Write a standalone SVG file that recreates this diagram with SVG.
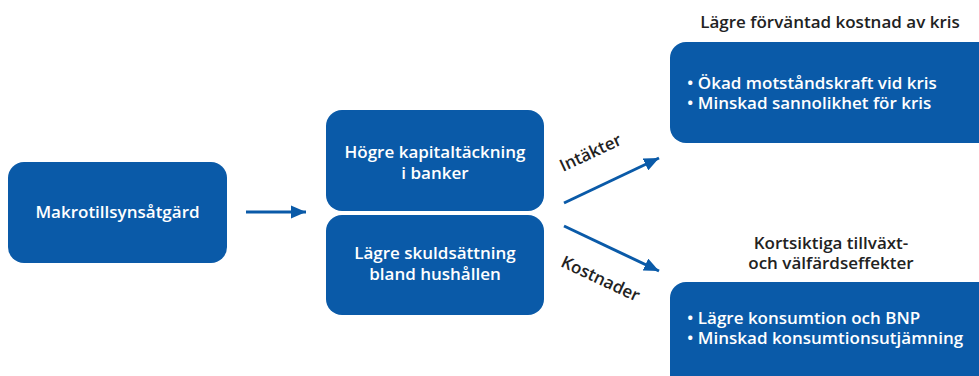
<svg xmlns="http://www.w3.org/2000/svg" width="979" height="376" viewBox="0 0 979 376">
  <defs>
    <marker id="arrow" viewBox="0 0 10 10" refX="10" refY="5" markerWidth="5" markerHeight="4.4" orient="auto" markerUnits="strokeWidth" preserveAspectRatio="none">
      <path d="M0,0 L10,5 L0,10 z" fill="#0a5aa8"/>
    </marker>
    <style>
      .box { fill: #0a5aa8; }
      .lbl { font-family: "Open Sans", "Noto Sans", sans-serif; font-weight: 600; font-size: 17px; fill: #ffffff; }
      .ttl { font-family: "Open Sans", "Noto Sans", sans-serif; font-weight: 600; font-size: 17px; fill: #222222; }
      .edge { stroke: #0a5aa8; stroke-width: 3; fill: none; marker-end: url(#arrow); }
    </style>
  </defs>

  <g id="node-makro">
    <rect class="box" x="8" y="162" width="219" height="101" rx="16"/>
    <text class="lbl" x="117.5" y="218" text-anchor="middle">Makrotillsynsåtgärd</text>
  </g>

  <g id="node-kapital">
    <rect class="box" x="326" y="110" width="218" height="101" rx="16"/>
    <text class="lbl" x="435" y="158" text-anchor="middle">Högre kapitaltäckning</text>
    <text class="lbl" x="435" y="179" text-anchor="middle">i banker</text>
  </g>

  <g id="node-skuld">
    <rect class="box" x="326" y="215" width="218" height="100" rx="16"/>
    <text class="lbl" x="435" y="259" text-anchor="middle">Lägre skuldsättning</text>
    <text class="lbl" x="435" y="280" text-anchor="middle">bland hushållen</text>
  </g>

  <g id="node-kris">
    <text class="ttl" x="830" y="28" text-anchor="middle">Lägre förväntad kostnad av kris</text>
    <rect class="box" x="670" y="42" width="330" height="101" rx="16"/>
    <text class="lbl" x="687" y="89">• Ökad motståndskraft vid kris</text>
    <text class="lbl" x="687" y="109">• Minskad sannolikhet för kris</text>
  </g>

  <g id="node-tillvaxt">
    <text class="ttl" x="831" y="249" text-anchor="middle">Kortsiktiga tillväxt-</text>
    <text class="ttl" x="831" y="269" text-anchor="middle">och välfärdseffekter</text>
    <rect class="box" x="670" y="282" width="330" height="120" rx="16"/>
    <text class="lbl" x="687" y="324">• Lägre konsumtion och BNP</text>
    <text class="lbl" x="687" y="344">• Minskad konsumtionsutjämning</text>
  </g>

  <g id="connectors">
    <line class="edge" x1="564" y1="203" x2="659" y2="158"/>
    <line class="edge" x1="564" y1="226" x2="659" y2="271"/>
    <line class="edge" x1="246" y1="212" x2="306" y2="212"/>
    <text class="ttl" font-size="15" transform="translate(593,158) rotate(-25)" text-anchor="middle">Intäkter</text>
    <text class="ttl" font-size="15" transform="translate(598,284) rotate(25)" text-anchor="middle">Kostnader</text>
  </g>
</svg>
